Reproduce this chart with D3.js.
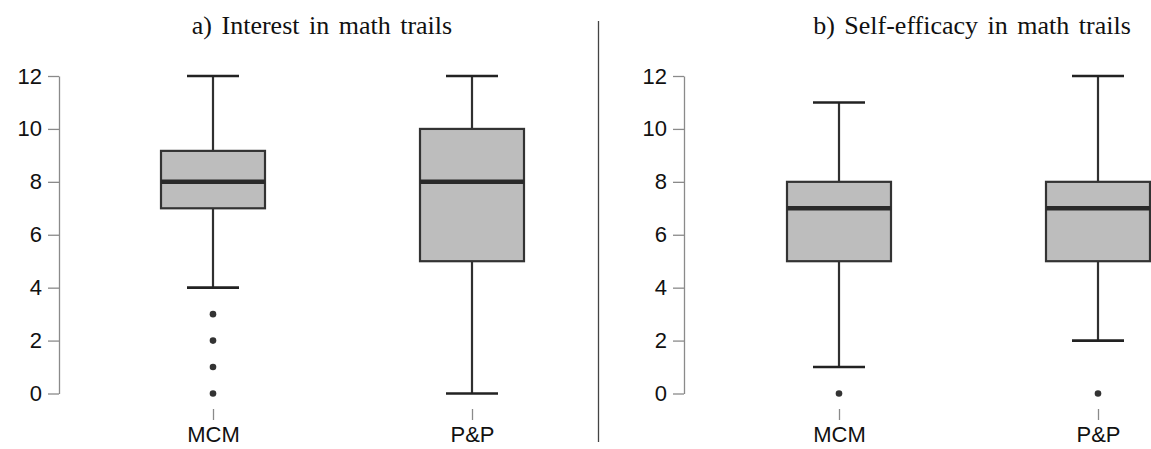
<!DOCTYPE html>
<html>
<head>
<meta charset="utf-8">
<script src="https://cdn.jsdelivr.net/npm/d3@7"></script>
<style>
  body { margin: 0; background: #fff; }
  svg { display: block; }
</style>
</head>
<body>
<svg id="chart" width="1151" height="449"></svg>
<script>
// groups on the x axis
var groups = ["MCM", "P&P"];
var yTicks = [0, 2, 4, 6, 8, 10, 12];

// a) Interest in math trails
var interestMin = [4, 0];
var interestQ1 = [7, 5];
var interestMedian = [8, 8];
var interestQ3 = [9.17, 10];
var interestMax = [12, 12];
var interestOutliers = [[0, 1, 2, 3], []];

// b) Self-efficacy in math trails
var efficacyMin = [1, 2];
var efficacyQ1 = [5, 5];
var efficacyMedian = [7, 7];
var efficacyQ3 = [8, 8];
var efficacyMax = [11, 12];
var efficacyOutliers = [[0], [0]];

var svg = d3.select("#chart");

var y = d3.scaleLinear().domain([0, 12]).range([393.5, 76]);

function buildStats(mins, q1s, meds, q3s, maxs, outs) {
    return groups.map(function (g, i) {
        return { name: g, min: mins[i], q1: q1s[i], med: meds[i], q3: q3s[i], max: maxs[i], out: outs[i] };
    });
}

function drawPanel(title, titleX, axisX, xRange, stats) {
    var x = d3.scalePoint().domain(groups).range(xRange);
    var boxW = 104, capW = 52;
    var g = svg.append("g");

    // title
    g.append("text")
        .attr("x", titleX).attr("y", 34)
        .attr("text-anchor", "middle")
        .style("font-family", "'Liberation Serif', 'Times New Roman', serif")
        .style("font-size", "26px")
        .style("word-spacing", "3px")
        .attr("fill", "#111")
        .text(title);

    // y axis, R style (line only covers tick range)
    var yAxis = g.append("g")
        .attr("transform", "translate(" + axisX + ",0)")
        .call(d3.axisLeft(y).tickValues(yTicks).tickSize(11).tickSizeOuter(0).tickPadding(6));
    yAxis.select(".domain").attr("stroke", "#8a8a8a").attr("stroke-width", 1.3);
    yAxis.selectAll(".tick line").attr("stroke", "#8a8a8a").attr("stroke-width", 1.3);
    yAxis.selectAll(".tick text")
        .attr("fill", "#111")
        .style("font-family", "'Liberation Sans', Arial, sans-serif")
        .style("font-size", "22px");

    // x axis: just ticks + labels, no line
    var xAxis = g.append("g")
        .attr("transform", "translate(0,409)")
        .call(d3.axisBottom(x).tickSize(11).tickSizeOuter(0).tickPadding(6));
    xAxis.select(".domain").remove();
    xAxis.selectAll(".tick line").attr("stroke", "#8a8a8a").attr("stroke-width", 1.3);
    xAxis.selectAll(".tick text")
        .attr("fill", "#111")
        .style("font-family", "'Liberation Sans', Arial, sans-serif")
        .style("font-size", "22px");

    var box = g.selectAll(".box").data(stats).enter().append("g").attr("class", "box");

    // whisker stems
    box.append("line")
        .attr("x1", function (d) { return x(d.name); })
        .attr("x2", function (d) { return x(d.name); })
        .attr("y1", function (d) { return y(d.max); })
        .attr("y2", function (d) { return y(d.min); })
        .attr("stroke", "#303030").attr("stroke-width", 2.2);

    // caps
    ["min", "max"].forEach(function (k) {
        box.append("line")
            .attr("x1", function (d) { return x(d.name) - capW / 2; })
            .attr("x2", function (d) { return x(d.name) + capW / 2; })
            .attr("y1", function (d) { return y(d[k]); })
            .attr("y2", function (d) { return y(d[k]); })
            .attr("stroke", "#222").attr("stroke-width", 2.6);
    });

    // box
    box.append("rect")
        .attr("x", function (d) { return x(d.name) - boxW / 2; })
        .attr("y", function (d) { return y(d.q3); })
        .attr("width", boxW)
        .attr("height", function (d) { return y(d.q1) - y(d.q3); })
        .attr("fill", "#bdbdbd")
        .attr("stroke", "#333").attr("stroke-width", 2.2);

    // median
    box.append("line")
        .attr("x1", function (d) { return x(d.name) - boxW / 2; })
        .attr("x2", function (d) { return x(d.name) + boxW / 2; })
        .attr("y1", function (d) { return y(d.med); })
        .attr("y2", function (d) { return y(d.med); })
        .attr("stroke", "#2a2a2a").attr("stroke-width", 4.5);

    // outliers
    box.selectAll(".out")
        .data(function (d) { return d.out.map(function (v) { return { name: d.name, v: v }; }); })
        .enter().append("circle")
        .attr("cx", function (d) { return x(d.name); })
        .attr("cy", function (d) { return y(d.v); })
        .attr("r", 3.3)
        .attr("fill", "#333");
}

drawPanel("a) Interest in math trails", 322, 59, [213, 472],
    buildStats(interestMin, interestQ1, interestMedian, interestQ3, interestMax, interestOutliers));
drawPanel("b) Self-efficacy in math trails", 972, 684, [839, 1098],
    buildStats(efficacyMin, efficacyQ1, efficacyMedian, efficacyQ3, efficacyMax, efficacyOutliers));

// divider between the two panels
svg.append("line")
    .attr("x1", 598.5).attr("x2", 598.5)
    .attr("y1", 21).attr("y2", 442)
    .attr("stroke", "#444").attr("stroke-width", 1.3);
</script>
</body>
</html>
